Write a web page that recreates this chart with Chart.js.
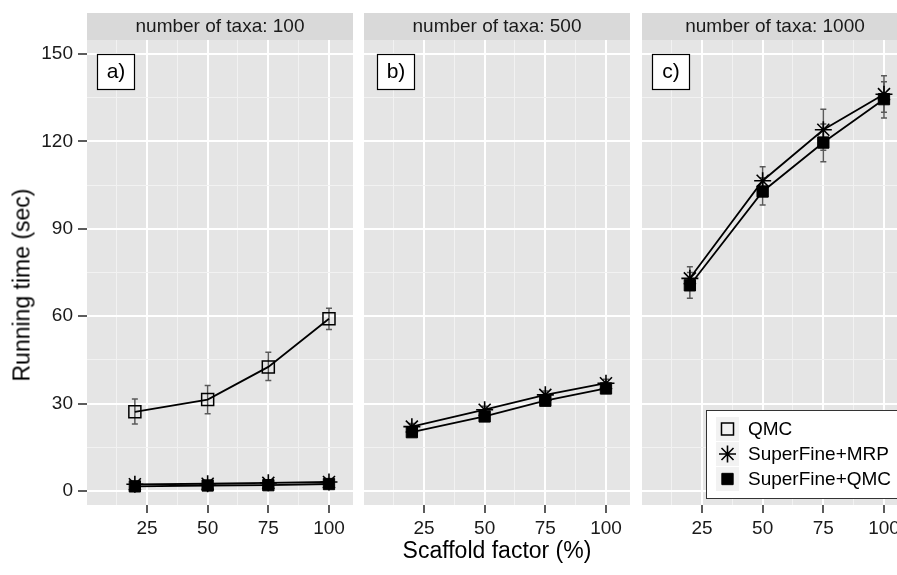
<!DOCTYPE html>
<html>
<head>
<meta charset="utf-8">
<title>Running time vs scaffold factor</title>
<script src="https://cdn.jsdelivr.net/npm/chart.js@4.4.1/dist/chart.umd.min.js"></script>
<style>
  html, body { margin: 0; padding: 0; background: #fff; }
  body { width: 897px; height: 575px; position: relative; overflow: hidden; font-family: "Liberation Sans", Arial, sans-serif; color: #000; }
  .panel { position: absolute; top: 0; height: 575px; }
  #yTitle { position: absolute; left: 22px; top: 285px; transform: translate(-50%, -50%) rotate(-90deg); font-size: 23px; white-space: nowrap; }
  #xTitle { position: absolute; left: 497px; top: 550px; transform: translate(-50%, -50%); font-size: 23px; white-space: nowrap; }
</style>
</head>
<body>
<div class="panel" style="left:0; width:353px;"><canvas id="chart100"></canvas></div>
<div class="panel" style="left:364px; width:266px;"><canvas id="chart500"></canvas></div>
<div class="panel" style="left:642px; width:266px;"><canvas id="chart1000"></canvas></div>
<div id="yTitle">Running time (sec)</div>
<div id="xTitle">Scaffold factor (%)</div>

<script>
// Valores
const xValues = [20, 50, 75, 100];
const xTicks = [12.5, 25, 37.5, 50, 62.5, 75, 87.5, 100];
const xMajor = [25, 50, 75, 100];
const yTicks = [0, 15, 30, 45, 60, 75, 90, 105, 120, 135, 150];
const yMajor = [0, 30, 60, 90, 120, 150];
const stripTitles = ['number of taxa: 100', 'number of taxa: 500', 'number of taxa: 1000'];
const panelTags = ['a)', 'b)', 'c)'];
const seriesNames = ['QMC', 'SuperFine+MRP', 'SuperFine+QMC'];

// number of taxa: 100
const qmc100 = [27.2, 31.4, 42.6, 59.1];
const qmc100Low = [23.0, 26.5, 37.9, 55.4];
const qmc100High = [31.6, 36.2, 47.6, 62.7];
const mrp100 = [2.3, 2.5, 2.8, 3.1];
const mrp100Low = [1.5, 1.7, 1.9, 2.2];
const mrp100High = [3.1, 3.3, 3.7, 4.0];
const sfq100 = [1.6, 1.9, 2.0, 2.4];
const sfq100Low = [1.0, 1.3, 1.4, 1.8];
const sfq100High = [2.2, 2.5, 2.6, 3.0];

// number of taxa: 500
const mrp500 = [22.1, 27.9, 33.0, 37.0];
const mrp500Low = [21.0, 26.7, 31.7, 35.6];
const mrp500High = [23.2, 29.1, 34.3, 38.4];
const sfq500 = [20.2, 25.6, 31.0, 35.2];
const sfq500Low = [19.2, 24.5, 29.9, 34.0];
const sfq500High = [21.2, 26.7, 32.1, 36.4];

// number of taxa: 1000
const mrp1000 = [73.0, 106.5, 124.0, 136.2];
const mrp1000Low = [69.0, 101.5, 117.0, 130.0];
const mrp1000High = [77.0, 111.3, 131.0, 142.5];
const sfq1000 = [70.6, 102.8, 119.6, 134.5];
const sfq1000Low = [66.2, 98.2, 113.0, 128.0];
const sfq1000High = [75.0, 107.5, 126.0, 140.5];

const FONT = '"Liberation Sans", Arial, sans-serif';

// Estilo de cada série (forma do ponto)
const seriesStyle = {
    'QMC': { pointStyle: 'rect', pointRadius: 8.5, pointBackgroundColor: 'rgba(0,0,0,0)', pointBorderWidth: 1.5 },
    'SuperFine+MRP': { pointStyle: 'star', pointRadius: 8.5, pointBackgroundColor: '#000', pointBorderWidth: 1.6 },
    'SuperFine+QMC': { pointStyle: 'rect', pointRadius: 8, pointBackgroundColor: '#000', pointBorderWidth: 1 }
};

function makeDataset(name, values, low, high) {
    const st = seriesStyle[name];
    return {
        label: name,
        data: xValues.map((x, i) => ({ x: x, y: values[i] })),
        errLow: low,
        errHigh: high,
        borderColor: '#000',
        borderWidth: 1.8,
        tension: 0,
        fill: false,
        pointStyle: st.pointStyle,
        pointRadius: st.pointRadius,
        pointHoverRadius: st.pointRadius,
        pointBackgroundColor: st.pointBackgroundColor,
        pointBorderColor: '#000',
        pointBorderWidth: st.pointBorderWidth
    };
}

// Desenha um símbolo da legenda
function drawSymbol(ctx, name, x, y) {
    const st = seriesStyle[name];
    ctx.save();
    ctx.strokeStyle = '#000';
    ctx.fillStyle = st.pointBackgroundColor;
    ctx.lineWidth = st.pointBorderWidth;
    if (st.pointStyle === 'rect') {
        const s = Math.SQRT1_2 * st.pointRadius;
        ctx.beginPath();
        ctx.rect(x - s, y - s, 2 * s, 2 * s);
        ctx.fill();
        ctx.stroke();
    } else {
        const r = st.pointRadius;
        ctx.beginPath();
        for (let k = 0; k < 4; k++) {
            const a = k * Math.PI / 4;
            ctx.moveTo(x - r * Math.sin(a), y - r * Math.cos(a));
            ctx.lineTo(x + r * Math.sin(a), y + r * Math.cos(a));
        }
        ctx.stroke();
    }
    ctx.restore();
}

// Plugin estilo ggplot: fundo, faixa do título, barras de erro, etiqueta e legenda
const facetPlugin = {
    id: 'facet',
    beforeDraw(chart, args, opts) {
        const { ctx, chartArea: a } = chart;
        ctx.save();
        ctx.fillStyle = '#E5E5E5';
        ctx.fillRect(a.left, a.top, a.right - a.left, a.bottom - a.top);
        ctx.fillStyle = '#D9D9D9';
        ctx.fillRect(a.left, 13, a.right - a.left, a.top - 13);
        ctx.fillStyle = '#1a1a1a';
        ctx.font = '19px ' + FONT;
        ctx.textAlign = 'center';
        ctx.textBaseline = 'middle';
        ctx.fillText(opts.strip, (a.left + a.right) / 2, 27);
        ctx.restore();
    },
    beforeDatasetsDraw(chart) {
        const { ctx, scales } = chart;
        ctx.save();
        ctx.strokeStyle = '#5a5a5a';
        ctx.lineWidth = 1.5;
        chart.data.datasets.forEach(ds => {
            xValues.forEach((xv, i) => {
                const px = scales.x.getPixelForValue(xv);
                const y1 = scales.y.getPixelForValue(ds.errLow[i]);
                const y2 = scales.y.getPixelForValue(ds.errHigh[i]);
                ctx.beginPath();
                ctx.moveTo(px, y1); ctx.lineTo(px, y2);
                ctx.moveTo(px - 3, y1); ctx.lineTo(px + 3, y1);
                ctx.moveTo(px - 3, y2); ctx.lineTo(px + 3, y2);
                ctx.stroke();
            });
        });
        ctx.restore();
    },
    afterDraw(chart, args, opts) {
        const { ctx, chartArea: a } = chart;
        ctx.save();
        // etiqueta a) b) c)
        const bx = a.left + opts.tagOffset, by = 54;
        ctx.fillStyle = '#fff';
        ctx.fillRect(bx, by, 38, 36);
        ctx.strokeStyle = '#000';
        ctx.lineWidth = 1.2;
        ctx.strokeRect(bx + 0.5, by + 0.5, 37, 35);
        ctx.fillStyle = '#000';
        ctx.font = '21px ' + FONT;
        ctx.textAlign = 'center';
        ctx.textBaseline = 'middle';
        ctx.fillText(opts.tag, bx + 19, by + 18);

        // legenda (só no último painel)
        if (opts.legend) {
            const lx = a.left + 64, ly = 410;
            ctx.fillStyle = '#fff';
            ctx.fillRect(lx, ly, 200, 89);
            ctx.strokeStyle = '#333';
            ctx.lineWidth = 1;
            ctx.strokeRect(lx + 0.5, ly + 0.5, 200, 88);
            seriesNames.forEach((name, i) => {
                const cy = ly + 19 + i * 25;
                ctx.fillStyle = '#F2F2F2';
                ctx.fillRect(lx + 10, cy - 12, 23, 24);
                drawSymbol(ctx, name, lx + 21.5, cy);
                ctx.fillStyle = '#000';
                ctx.font = '19px ' + FONT;
                ctx.textAlign = 'left';
                ctx.textBaseline = 'middle';
                ctx.fillText(name, lx + 42, cy + 1);
            });
        }
        ctx.restore();
    }
};

function buildChart(id, datasets, index, showYLabels, showLegend) {
    const isMajorX = v => xMajor.includes(v);
    const isMajorY = v => yMajor.includes(v);
    return new Chart(document.getElementById(id).getContext('2d'), {
        type: 'line',
        data: { datasets: datasets },
        plugins: [facetPlugin],
        options: {
            responsive: true,
            maintainAspectRatio: false,
            animation: false,
            events: [],
            layout: { autoPadding: false, padding: { top: 40, bottom: 40, left: 0, right: 0 } },
            plugins: {
                legend: { display: false },
                tooltip: { enabled: false },
                facet: { strip: stripTitles[index], tag: panelTags[index], tagOffset: index === 1 ? 13 : 10, legend: showLegend }
            },
            scales: {
                x: {
                    type: 'linear',
                    min: 0.275,
                    max: 109.9,
                    afterBuildTicks: scale => { scale.ticks = xTicks.map(v => ({ value: v })); },
                    afterFit: box => { box.height = 30; box.paddingLeft = 0; box.paddingRight = 0; },
                    border: { display: false },
                    grid: {
                        color: c => isMajorX(c.tick.value) ? '#ffffff' : '#F2F2F2',
                        lineWidth: c => isMajorX(c.tick.value) ? 2 : 1,
                        tickColor: c => isMajorX(c.tick.value) ? '#333333' : 'rgba(0,0,0,0)',
                        tickWidth: 1.6,
                        tickLength: 8
                    },
                    ticks: {
                        autoSkip: false,
                        maxRotation: 0,
                        padding: 4,
                        color: '#1a1a1a',
                        font: { family: FONT, size: 19 },
                        callback: v => isMajorX(v) ? String(v) : ''
                    }
                },
                y: {
                    min: -4.8,
                    max: 154.8,
                    afterBuildTicks: scale => { scale.ticks = yTicks.map(v => ({ value: v })); },
                    afterFit: box => { box.width = showYLabels ? 87 : 0; box.paddingTop = 0; box.paddingBottom = 0; },
                    border: { display: false },
                    grid: {
                        drawTicks: showYLabels,
                        color: c => isMajorY(c.tick.value) ? '#ffffff' : '#F2F2F2',
                        lineWidth: c => isMajorY(c.tick.value) ? 2 : 1,
                        tickColor: c => isMajorY(c.tick.value) ? '#333333' : 'rgba(0,0,0,0)',
                        tickWidth: 1.6,
                        tickLength: 9
                    },
                    ticks: {
                        display: showYLabels,
                        autoSkip: false,
                        padding: 5,
                        color: '#1a1a1a',
                        font: { family: FONT, size: 19 },
                        callback: v => isMajorY(v) ? String(v) : ''
                    }
                }
            }
        }
    });
}

buildChart('chart100', [
    makeDataset('QMC', qmc100, qmc100Low, qmc100High),
    makeDataset('SuperFine+MRP', mrp100, mrp100Low, mrp100High),
    makeDataset('SuperFine+QMC', sfq100, sfq100Low, sfq100High)
], 0, true, false);

buildChart('chart500', [
    makeDataset('SuperFine+MRP', mrp500, mrp500Low, mrp500High),
    makeDataset('SuperFine+QMC', sfq500, sfq500Low, sfq500High)
], 1, false, false);

buildChart('chart1000', [
    makeDataset('SuperFine+MRP', mrp1000, mrp1000Low, mrp1000High),
    makeDataset('SuperFine+QMC', sfq1000, sfq1000Low, sfq1000High)
], 2, false, true);
</script>
</body>
</html>
